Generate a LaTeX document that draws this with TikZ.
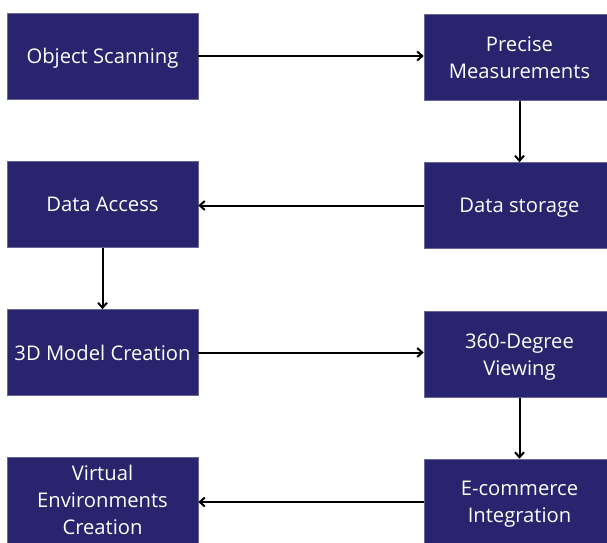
\documentclass[tikz,border=0pt]{standalone}
\usepackage{fontspec}
\setmainfont{Open Sans}
\usetikzlibrary{arrows.meta}
\definecolor{boxnavy}{RGB}{41, 36, 110}
\tikzset{>={Straight Barb[length=5pt,width=9pt]}}
\tikzset{stagebox/.style={fill=boxnavy, draw=boxnavy!70, line width=0.6pt, text=white, minimum width=191pt, minimum height=86pt, inner sep=0pt, align=center, font=\fontsize{20.2}{27}\selectfont}}
\tikzset{oneline/.style={stagebox, text depth=0pt}}
\tikzset{flow/.style={->, line width=2pt}}

\begin{document}
\begin{tikzpicture}[x=1pt, y=1pt]
\useasboundingbox (0, 0) rectangle (607, 542);
\clip (0, 0) rectangle (607, 542);

\node[oneline] (scan) at (102.5, 486) {Object Scanning};
\node[stagebox] (measure) at (519.5, 484.5) {Precise\\Measurements};
\node[oneline] (storage) at (519.5, 336.5) {Data storage};
\node[oneline] (access) at (102.5, 337.5) {Data Access};
\node[oneline] (model) at (102.5, 189.5) {3D Model Creation};
\node[stagebox] (viewing) at (519.5, 187.5) {360-Degree\\\smash{Viewing}};
\node[stagebox] (virtual) at (102.5, 42) {Virtual\\Environments\\Creation};
\node[stagebox] (ecom) at (519.5, 40) {E-commerce\\\smash{Integration}};

\draw[flow] (scan.east) -- (scan.east -| measure.west);
\draw[flow] (measure.south) -- (storage.north);
\draw[flow] (storage.west) -- (storage.west -| access.east);
\draw[flow] (access.south) -- (model.north);
\draw[flow] (model.east) -- (model.east -| viewing.west);
\draw[flow] (viewing.south) -- (ecom.north);
\draw[flow] (ecom.west) -- (ecom.west -| virtual.east);
\end{tikzpicture}
\end{document}
